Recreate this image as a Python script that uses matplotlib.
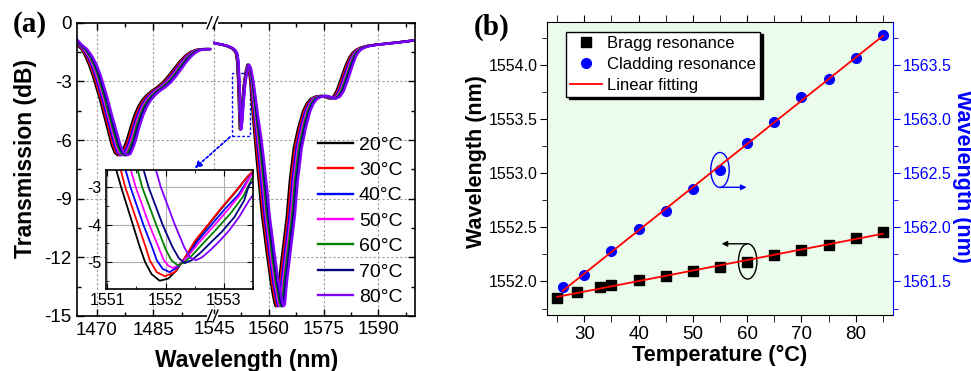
import matplotlib
matplotlib.use("Agg")
import matplotlib.pyplot as plt
import numpy as np
from matplotlib.patches import Ellipse, Rectangle
from matplotlib.lines import Line2D
from matplotlib.ticker import MultipleLocator, FormatStrFormatter

plt.rcParams['font.family'] = ['Liberation Sans', 'DejaVu Sans']
plt.rcParams['axes.unicode_minus'] = False

# ---------------- (a) transmission spectra ----------------
temps = ['20°C', '30°C', '40°C', '50°C', '60°C', '70°C', '80°C']
colors = ['black', 'red', 'blue', 'magenta', 'green', 'navy', '#8000FF']

# 20°C spectrum, short band (nm, dB) and the 20->80°C spread of the bundle (nm)
wl_left = [1463.0, 1464.9, 1466.0, 1467.0, 1468.0, 1469.0, 1470.0, 1471.0, 1472.0,
           1473.0, 1474.0, 1474.8, 1475.6, 1476.4, 1477.2, 1478.0, 1479.0, 1480.0,
           1481.0, 1482.0, 1483.0, 1484.5, 1486.0, 1487.5, 1489.0, 1490.5, 1492.0,
           1493.5, 1495.0, 1496.5, 1498.0, 1499.5]
tr_left = [-0.75, -1.15, -1.35, -1.7, -2.15, -2.7, -3.35, -4.0, -4.75,
           -5.5, -6.25, -6.65, -6.78, -6.7, -6.4, -6.0, -5.35, -4.75,
           -4.3, -3.98, -3.75, -3.5, -3.3, -3.05, -2.72, -2.35, -1.98,
           -1.68, -1.48, -1.38, -1.35, -1.35]
spread_left = [1.3, 1.3, 1.5, 1.8, 2.0, 2.1, 2.1, 2.1, 2.1,
               2.2, 2.3, 2.4, 2.6, 2.6, 2.5, 2.4, 2.3, 2.3,
               2.3, 2.3, 2.3, 2.2, 2.2, 2.2, 2.1, 2.0, 1.9,
               1.8, 1.6, 1.3, 1.0, 0.6]

# 20°C spectrum, long band
wl_right = [1544.0, 1545.5, 1547.0, 1548.5, 1549.7, 1550.5, 1551.0, 1551.3, 1551.6,
            1551.85, 1552.05, 1552.3, 1552.7, 1553.1, 1553.6, 1554.1, 1554.5, 1554.9,
            1555.6, 1556.2, 1556.8, 1557.45, 1558.1, 1558.8, 1559.5, 1560.0, 1560.5,
            1561.0, 1561.5, 1561.85, 1562.2, 1562.75, 1563.3, 1563.85, 1564.4, 1564.95,
            1565.7, 1566.8, 1568.0, 1569.3, 1570.3, 1571.4, 1572.7, 1574.0, 1575.3,
            1576.6, 1577.6, 1578.5, 1579.4, 1580.3, 1581.2, 1582.1, 1583.0, 1584.0,
            1585.3, 1587.0, 1589.0, 1592.0, 1595.0, 1598.0, 1601.0]
tr_right = [-1.0, -1.07, -1.12, -1.2, -1.3, -1.42, -1.6, -2.0, -3.1,
            -4.6, -5.45, -5.1, -4.1, -3.2, -2.55, -2.15, -2.33, -3.01,
            -4.72, -6.0, -7.28, -8.55, -9.83, -10.85, -11.88, -12.55, -13.24,
            -13.8, -14.3, -14.5, -14.4, -13.24, -12.4, -11.53, -10.7, -9.83,
            -8.13, -6.42, -5.4, -4.55, -4.15, -3.9, -3.78, -3.74, -3.8,
            -3.88, -3.78, -3.5, -3.05, -2.55, -2.1, -1.75, -1.52, -1.37,
            -1.26, -1.18, -1.13, -1.07, -1.01, -0.94, -0.86]
spread_right = [0.4, 0.4, 0.4, 0.4, 0.4, 0.4, 0.4, 0.4, 0.4,
                0.4, 0.4, 0.4, 0.4, 0.4, 0.4, 0.5, 0.6, 0.9,
                1.4, 1.8, 2.0, 2.1, 2.1, 2.1, 2.1, 2.1, 2.1,
                2.2, 2.2, 2.2, 2.2, 2.2, 2.2, 2.2, 2.2, 2.2,
                2.2, 2.2, 2.1, 2.0, 1.9, 1.8, 1.8, 1.8, 1.8,
                1.8, 1.9, 2.0, 2.0, 2.0, 1.9, 1.7, 1.5, 1.3,
                1.1, 0.9, 0.8, 0.7, 0.6, 0.6, 0.6]

# inset: Bragg dip for each temperature
inset_wl = [
    [1551.13, 1551.24, 1551.44, 1551.56, 1551.65, 1551.76, 1551.90, 1552.05, 1552.19,
     1552.33, 1552.53, 1552.75, 1552.98, 1553.20, 1553.40, 1553.55],
    [1551.21, 1551.31, 1551.53, 1551.66, 1551.73, 1551.85, 1551.99, 1552.16, 1552.33,
     1552.51, 1552.74, 1552.97, 1553.19, 1553.42, 1553.55],
    [1551.29, 1551.40, 1551.62, 1551.77, 1551.85, 1551.95, 1552.07, 1552.21, 1552.36,
     1552.55, 1552.79, 1553.02, 1553.25, 1553.46, 1553.55],
    [1551.38, 1551.49, 1551.72, 1551.88, 1551.97, 1552.05, 1552.13, 1552.25, 1552.38,
     1552.58, 1552.82, 1553.06, 1553.29, 1553.46, 1553.55],
    [1551.50, 1551.60, 1551.84, 1552.00, 1552.10, 1552.21, 1552.33, 1552.45, 1552.64,
     1552.88, 1553.12, 1553.33, 1553.55],
    [1551.60, 1551.71, 1551.95, 1552.12, 1552.23, 1552.33, 1552.45, 1552.60, 1552.80,
     1552.96, 1553.18, 1553.35, 1553.42, 1553.46, 1553.55],
    [1551.81, 1551.92, 1552.16, 1552.32, 1552.42, 1552.52, 1552.62, 1552.77, 1552.92,
     1553.09, 1553.26, 1553.43, 1553.55],
]
inset_tr = [
    [-2.4, -3.0, -4.0, -4.6, -5.0, -5.32, -5.5, -5.44, -5.22,
     -4.89, -4.42, -3.98, -3.53, -3.13, -2.73, -2.52],
    [-2.4, -3.0, -4.0, -4.6, -4.95, -5.27, -5.38, -5.27, -4.89,
     -4.42, -3.98, -3.53, -3.13, -2.69, -2.5],
    [-2.4, -3.0, -4.0, -4.6, -4.95, -5.18, -5.27, -5.13, -4.88,
     -4.44, -4.0, -3.58, -3.2, -2.69, -2.52],
    [-2.4, -3.0, -4.0, -4.6, -4.95, -5.1, -5.16, -5.06, -4.85,
     -4.47, -4.05, -3.62, -3.18, -2.7, -2.52],
    [-2.4, -3.0, -4.0, -4.65, -4.95, -5.09, -5.0, -4.83, -4.51,
     -4.11, -3.69, -3.25, -2.55],
    [-2.4, -3.0, -4.0, -4.6, -4.9, -5.03, -4.95, -4.75, -4.44,
     -4.2, -3.8, -3.35, -3.0, -2.88, -2.87],
    [-2.4, -3.0, -4.0, -4.6, -4.88, -4.95, -4.88, -4.68, -4.45,
     -4.16, -3.8, -3.36, -3.1],
]

# ---------------- (b) temperature dependence ----------------
bragg_t = [25, 28.6, 32.9, 35, 40, 45, 50, 55, 60, 65, 70, 75, 80, 85]
bragg_wl = [1551.85, 1551.90, 1551.945, 1551.963, 1552.015, 1552.052, 1552.092,
            1552.135, 1552.178, 1552.24, 1552.29, 1552.34, 1552.406, 1552.455]
clad_t = [26, 30, 35, 40, 45, 50, 55, 60, 65, 70, 75, 80, 85]
clad_wl = [1561.445, 1561.56, 1561.78, 1561.98, 1562.155, 1562.35, 1562.53,
           1562.78, 1562.97, 1563.20, 1563.37, 1563.56, 1563.78]

W, H = 971, 371
fig = plt.figure(figsize=(W / 100, H / 100), dpi=100)


def box(x0, y0, x1, y1):
    return [x0 / W, 1 - y1 / H, (x1 - x0) / W, (y1 - y0) / H]


axL = fig.add_axes(box(77.3, 22.7, 213, 316))
axR = fig.add_axes(box(213, 22.7, 415.3, 316))

for k, (lab, c) in enumerate(zip(temps, colors)):
    xl = np.array(wl_left) + np.array(spread_left) * k / 6
    xr = np.array(wl_right) + np.array(spread_right) * k / 6
    axL.plot(xl, tr_left, color=c, lw=1.7)
    axR.plot(xr, tr_right, color=c, lw=1.7, label=lab)

axL.set_xlim(1464.9, 1500.8)
axR.set_xlim(1544.7, 1600.1)
for ax in (axL, axR):
    ax.set_ylim(-15, 0)
    ax.set_yticks(np.arange(0, -16, -3))
    ax.yaxis.set_minor_locator(MultipleLocator(1.5))
    ax.grid(True, which='major', ls=(0, (2, 2)), color='#9a9a9a', lw=0.8)
    ax.set_axisbelow(True)
    for s in ax.spines.values():
        s.set_linewidth(1.2)
    ax.tick_params(which='both', direction='in', top=True, labelsize=13.5, width=1)
    ax.tick_params(which='major', length=5)
    ax.tick_params(which='minor', length=3)

axL.set_xticks([1470, 1485])
axL.set_xticks([1477.5, 1492.5], minor=True)
axL.spines['right'].set_visible(False)
axL.tick_params(which='both', right=False, pad=4)
axR.set_xticks([1545, 1560, 1575, 1590])
axR.set_xticks([1552.5, 1567.5, 1582.5, 1597.5], minor=True)
axR.spines['left'].set_visible(False)
axR.tick_params(which='both', left=False, right=True, labelleft=False)

axL.set_ylabel('Transmission (dB)', fontsize=16.5, fontweight='bold', va='center')
axL.yaxis.set_label_coords((25 - 77.3) / 135.7, (316 - 158) / 293.3)
fig.text(246.5 / W, 1 - 360 / H, 'Wavelength (nm)', fontsize=16.5,
         fontweight='bold', ha='center', va='center')

# break marks on the x axis
for yb in (22.7, 316):
    fig.add_artist(Line2D([209 / W, 216 / W], [1 - yb / H] * 2, color='white', lw=3))
    for xb in (209.5, 215.5):
        fig.add_artist(Line2D([(xb - 2.5) / W, (xb + 2.5) / W],
                              [1 - (yb + 6) / H, 1 - (yb - 6) / H], color='black', lw=1))

axR.add_patch(Rectangle((1549.8, -5.8), 4.9, 3.23, fill=False, ec='blue',
                        lw=1, ls=(0, (2, 1.5))))

axR.legend(loc='upper left', bbox_to_anchor=(318 / W, 1 - 136 / H),
           bbox_transform=fig.transFigure, frameon=False, fontsize=14,
           handlelength=1.8, handletextpad=0.3, labelspacing=0.4,
           borderpad=0, borderaxespad=0)

axI = fig.add_axes(box(106, 170, 253, 289))
for xs, ys, c in zip(inset_wl, inset_tr, colors):
    axI.plot(xs, ys, color=c, lw=1.3)
axI.set_xlim(1550.98, 1553.5)
axI.set_ylim(-5.72, -2.54)
axI.set_xticks([1551, 1552, 1553])
axI.set_yticks([-3, -4, -5])
axI.xaxis.set_minor_locator(MultipleLocator(0.5))
axI.yaxis.set_minor_locator(MultipleLocator(0.5))
axI.grid(True, which='major', color='#b0b0b0', lw=0.8)
axI.set_axisbelow(True)
axI.tick_params(which='both', direction='in', top=True, right=True, labelsize=11.5, pad=3)
axI.tick_params(which='major', length=4)
axI.tick_params(which='minor', length=2.5)
for s in axI.spines.values():
    s.set_linewidth(1.2)

fig.add_artist(plt.annotate('', xy=(195 / W, 1 - 168 / H), xytext=(230 / W, 1 - 137 / H),
                            xycoords=fig.transFigure, textcoords=fig.transFigure,
                            arrowprops=dict(arrowstyle='-|>', color='blue', lw=1,
                                            ls=(0, (2, 1.5)), mutation_scale=10,
                                            shrinkA=0, shrinkB=0)))

fig.text(29.5 / W, 1 - 25 / H, '(a)', fontsize=21, fontweight='bold',
         family='Liberation Serif', ha='center', va='center')

# ---------------- panel (b) ----------------
axb = fig.add_axes(box(546.7, 21.7, 893.3, 315))
axb.set_facecolor('#ECFCEC')
ax2 = axb.twinx()

bragg_fit = np.polyfit(bragg_t, bragg_wl, 1)
clad_fit = np.polyfit(clad_t, clad_wl, 1)
tb = np.array([min(bragg_t), max(bragg_t)])
tc = np.array([min(clad_t), max(clad_t)])

hb, = axb.plot(bragg_t, bragg_wl, 's', color='black', ms=6.5, label='Bragg resonance')
axb.plot(tb, np.polyval(bragg_fit, tb), color='red', lw=1.3)
hc, = ax2.plot(clad_t, clad_wl, 'o', color='blue', ms=7, label='Cladding resonance')
hf, = ax2.plot(tc, np.polyval(clad_fit, tc), color='red', lw=1.3, label='Linear fitting')

axb.set_xlim(23.07, 86.93)
axb.set_ylim(1551.69, 1554.40)
ax2.set_ylim(1561.19, 1563.90)
axb.xaxis.set_major_locator(MultipleLocator(10))
axb.xaxis.set_minor_locator(MultipleLocator(5))
for a in (axb, ax2):
    a.yaxis.set_major_locator(MultipleLocator(0.5))
    a.yaxis.set_minor_locator(MultipleLocator(0.25))
    a.yaxis.set_major_formatter(FormatStrFormatter('%.1f'))

axb.tick_params(axis='x', which='both', direction='out', top=True, labelsize=13.5, pad=3)
axb.tick_params(axis='x', which='major', length=5)
axb.tick_params(axis='x', which='minor', length=5)
axb.tick_params(axis='y', which='both', direction='out', right=False, labelsize=11.5, pad=1.5)
axb.tick_params(axis='y', which='major', length=5)
axb.tick_params(axis='y', which='minor', length=3.5)
ax2.tick_params(axis='y', which='both', direction='out', colors='blue', labelsize=11.5, pad=1.5)
ax2.tick_params(axis='y', which='major', length=5)
ax2.tick_params(axis='y', which='minor', length=3.5)
axb.spines['right'].set_visible(False)
for s in ('left', 'top', 'bottom'):
    ax2.spines[s].set_visible(False)
ax2.spines['right'].set_color('blue')

axb.set_xlabel('Temperature (°C)', fontsize=15.7, fontweight='bold')
axb.xaxis.set_label_coords(0.5, (315 - 355) / 293.3)
axb.xaxis.label.set_va('center')
axb.set_ylabel('Wavelength (nm)', fontsize=15.5, fontweight='bold', va='center')
axb.yaxis.set_label_coords((476 - 546.7) / 346.6, (315 - 162) / 293.3)
ax2.set_ylabel('Wavelength (nm)', fontsize=15.5, fontweight='bold', color='blue',
               rotation=270, va='center')
ax2.yaxis.set_label_coords((962 - 546.7) / 346.6, (315 - 176) / 293.3)

axb.add_patch(Ellipse((55, 1553.03), 3.4, 0.323, fill=False, ec='blue', lw=1))
axb.annotate('', xy=(59.9, 1552.87), xytext=(55, 1552.87),
             arrowprops=dict(arrowstyle='-|>', color='blue', lw=1, mutation_scale=8,
                             shrinkA=0, shrinkB=0))
axb.add_patch(Ellipse((60.1, 1552.185), 3.4, 0.326, fill=False, ec='black', lw=1))
axb.annotate('', xy=(55.3, 1552.348), xytext=(60, 1552.348),
             arrowprops=dict(arrowstyle='-|>', color='black', lw=1, mutation_scale=8,
                             shrinkA=0, shrinkB=0))

ax2.legend([hb, hc, hf], ['Bragg resonance', 'Cladding resonance', 'Linear fitting'],
           loc='upper left', bbox_to_anchor=(566 / W, 1 - 31.7 / H),
           bbox_transform=fig.transFigure, fontsize=12, numpoints=1,
           fancybox=False, edgecolor='black', framealpha=1,
           shadow={'color': 'black', 'alpha': 1},
           handlelength=1.9, handletextpad=0.3, labelspacing=0.35,
           borderpad=0.25, borderaxespad=0)
ax2.get_legend().get_frame().set_linewidth(1)

fig.text(492 / W, 1 - 27 / H, '(b)', fontsize=21, fontweight='bold',
         family='Liberation Serif', ha='center', va='center')

fig.savefig('out.png', dpi=100)
